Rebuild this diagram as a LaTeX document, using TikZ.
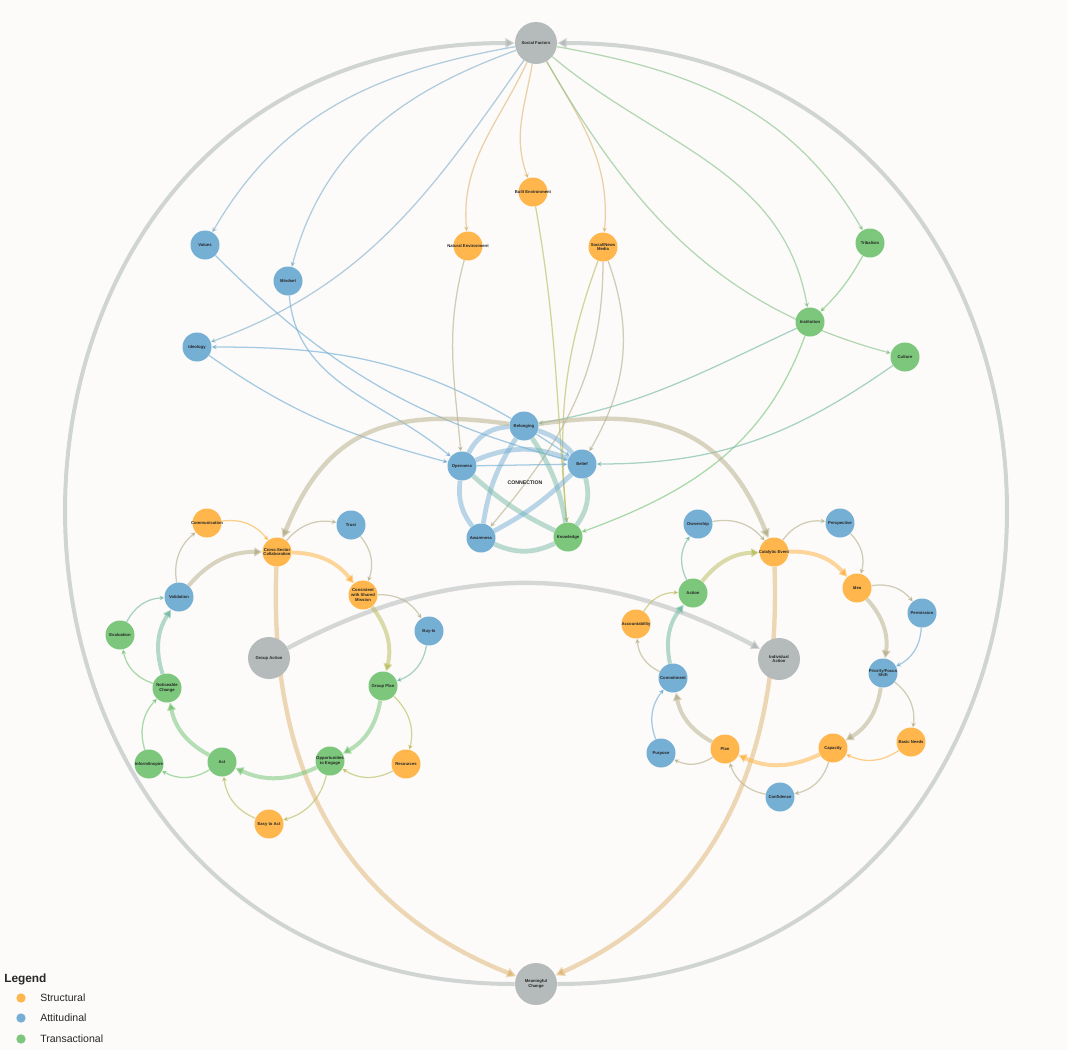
\documentclass[tikz,border=0pt]{standalone}
\usepackage{fontspec}
\setmainfont{Liberation Sans}
\usetikzlibrary{arrows.meta}

\definecolor{cstr}{HTML}{FFB74D}
\definecolor{catt}{HTML}{76AFD4}
\definecolor{ctra}{HTML}{7CC77B}
\definecolor{chub}{HTML}{B4BBBA}
\definecolor{paper}{HTML}{FCFBFA}
\colorlet{sa}{cstr!50!catt}
\colorlet{st}{cstr!50!ctra}
\colorlet{at}{catt!50!ctra}
\colorlet{ha}{catt!70!chub}
\colorlet{hs}{cstr!60!chub}
\colorlet{ht}{ctra!70!chub}

\pgfdeclarelayer{paperlayer}
\pgfdeclarelayer{edgelayer}
\pgfsetlayers{paperlayer,edgelayer,main}

\tikzset{
  nodetext/.style={font=\fontsize{3.15}{3.5}\selectfont\bfseries, align=center, text=black!85, inner sep=0pt},
  tag/.style={label={[nodetext]center:#1}},
  base/.style={circle, inner sep=0pt, minimum size=21.75pt},
  struct/.style={base, fill=cstr},
  att/.style={base, fill=catt},
  trans/.style={base, fill=ctra},
  hub/.style={circle, inner sep=0pt, minimum size=31.5pt, fill=chub},
  petal/.style={draw=#1, draw opacity=.65, line width=0.95pt, -{Stealth[length=3.6pt,width=3.6pt]}},
  ringarc/.style={draw=#1, draw opacity=.55, line width=3pt, -{Triangle[length=6pt,width=6.5pt]}},
  corearc/.style={draw=#1, draw opacity=.5, line width=3.6pt},
  hubarc/.style={draw=#1, draw opacity=.55, line width=3.3pt, -{Triangle[length=7pt,width=7pt]}},
  rimarc/.style={draw=chub, draw opacity=.6, line width=3pt, -{Triangle[length=7pt,width=7pt]}},
  keydot/.style={circle, inner sep=0pt, minimum size=7pt},
  legtext/.style={anchor=west, inner sep=0pt, font=\fontsize{7.9}{9}\selectfont, text=black!85},
}

\begin{document}
\begin{tikzpicture}[x=0.75pt,y=0.75pt]
\useasboundingbox (0,0) rectangle (1067,-1050);
\begin{pgfonlayer}{paperlayer}
  \fill[paper] (0,0) rectangle (1067,-1050);
\end{pgfonlayer}

% hubs
\node[hub, tag={Social Factors}] (sf) at (536,-43) {};
\node[hub, tag={Group Action}] (ga) at (269,-658) {};
\node[hub, tag={Individual\\Action}] (ia) at (779,-659) {};
\node[hub, tag={Meaningful\\Change}] (mc) at (536,-984) {};

% social factors ring
\node[struct, tag={Built Environment}] (be) at (533,-192) {};
\node[struct, tag={Natural Environment}] (ne) at (468,-246) {};
\node[struct, tag={Social/News\\Media}] (sm) at (603,-247) {};
\node[att, tag={Values}] (val) at (205,-245) {};
\node[att, tag={Mindset}] (mind) at (288,-281) {};
\node[att, tag={Ideology}] (ideo) at (197,-347) {};
\node[trans, tag={Tribalism}] (trib) at (870,-243) {};
\node[trans, tag={Institution}] (inst) at (810,-322) {};
\node[trans, tag={Culture}] (cult) at (905,-357) {};

% connection
\node[att, tag={Belonging}] (bel) at (524,-426) {};
\node[att, tag={Openness}] (opn) at (462,-466) {};
\node[att, tag={Belief}] (blf) at (582,-464) {};
\node[att, tag={Awareness}] (awa) at (481,-538) {};
\node[trans, tag={Knowledge}] (kno) at (568,-537) {};
\node[font=\fontsize{3.9}{4}\selectfont\bfseries, text=black!85] (conn) at (525,-483) {CONNECTION};

% group action
\node[struct, tag={Communication}] (comm) at (207,-523) {};
\node[struct, tag={Cross-Sector\\Collaboration}] (csc) at (277,-552) {};
\node[att, tag={Trust}] (trust) at (351,-525) {};
\node[struct, tag={Consistent\\with Shared\\Mission}] (cons) at (363,-595) {};
\node[att, tag={Buy-In}] (buy) at (429,-631) {};
\node[trans, tag={Group Plan}] (gplan) at (383,-686) {};
\node[struct, tag={Resources}] (res) at (406,-764) {};
\node[trans, tag={Opportunities\\to Engage}] (opp) at (330,-761) {};
\node[struct, tag={Easy to Act}] (easy) at (269,-824) {};
\node[trans, tag={Act}] (act) at (222,-762) {};
\node[trans, tag={Inform/Inspire}] (insp) at (149,-764) {};
\node[trans, tag={Noticeable\\Change}] (notc) at (167,-688) {};
\node[trans, tag={Evaluation}] (eval) at (120,-635) {};
\node[att, tag={Validation}] (vali) at (179,-597) {};

% individual action
\node[att, tag={Ownership}] (own) at (698,-524) {};
\node[struct, tag={Catalytic Event}] (ce) at (774,-552) {};
\node[att, tag={Perspective}] (persp) at (840,-523) {};
\node[struct, tag={Idea}] (idea) at (857,-588) {};
\node[att, tag={Permission}] (perm) at (922,-613) {};
\node[att, tag={Priority/Focus\\Shift}] (prio) at (883,-673) {};
\node[struct, tag={Basic Needs}] (basic) at (911,-742) {};
\node[struct, tag={Capacity}] (cap) at (833,-748) {};
\node[att, tag={Confidence}] (conf) at (780,-797) {};
\node[struct, tag={Plan}] (plan) at (725,-749) {};
\node[att, tag={Purpose}] (purp) at (661,-753) {};
\node[att, tag={Commitment}] (commit) at (673,-678) {};
\node[struct, tag={Accountability}] (acct) at (636,-624) {};
\node[trans, tag={Action}] (action) at (693,-593) {};

% legend
\node[anchor=west, inner sep=0pt, font=\fontsize{8.9}{10}\selectfont\bfseries, text=black!85] (leg) at (4,-979) {Legend};
\node[keydot, fill=cstr] (ks) at (21,-998) {};
\node[keydot, fill=catt] (ka) at (21,-1018) {};
\node[keydot, fill=ctra] (kt) at (21,-1039) {};
\node[legtext] (ts) at (40,-998) {Structural};
\node[legtext] (ta) at (40,-1018) {Attitudinal};
\node[legtext] (tt) at (40,-1039) {Transactional};

\begin{pgfonlayer}{edgelayer}
% outer rim
\draw[rimarc] (mc) to[out=180,in=180,looseness=1.63] (sf);
\draw[rimarc] (mc) to[out=0,in=0,looseness=1.63] (sf);

% social factors out
\draw[petal=ha] (sf) to[out=190,in=60] (val);
\draw[petal=ha] (sf) to[out=200,in=75] (mind);
\draw[petal=ha] (sf) to[out=235,in=20] (ideo);
\draw[petal=hs] (sf) to[out=245,in=95] (ne);
\draw[petal=hs] (sf) to[out=260,in=110] (be);
\draw[petal=hs] (sf) to[out=-60,in=85] (sm);
\draw[petal=ht] (sf) to[out=-10,in=120] (trib);
\draw[petal=ht] (sf) to[out=-40,in=100] (inst);
\draw[petal=ht] (sf) to[out=-60,in=165] (cult);

% into connection
\draw[petal=ctra] (trib) to[bend left=8] (inst);
\draw[petal=ctra] (inst) to[out=250,in=20] (kno);
\draw[petal=at] (inst) to[out=205,in=10] (bel);
\draw[petal=at] (cult) to[out=215,in=0] (blf);
\draw[petal=catt] (val) to[out=-45,in=165] (blf);
\draw[petal=catt] (mind) to[out=-85,in=140] (opn);
\draw[petal=catt] (ideo) to[out=-35,in=165] (opn);
\draw[petal=catt] (bel) to[out=150,in=0] (ideo);
\draw[petal=sa] (ne) to[out=-105,in=95] (opn);
\draw[petal=st] (be) to[out=-80,in=95] (kno);
\draw[petal=st] (sm) to[out=-110,in=95] (kno);
\draw[petal=sa] (sm) to[out=-90,in=50] (awa);
\draw[petal=sa] (sm) to[out=-70,in=60] (blf);
\draw[petal=catt] (opn) -- (blf);
\draw[petal=catt] (bel) -- (blf);

% connection core
\draw[corearc=catt] (bel) to[bend right=30] (opn);
\draw[corearc=catt] (opn) to[bend left=22] (blf);
\draw[corearc=catt] (bel) to[bend left=15] (blf);
\draw[corearc=at] (blf) to[bend left=25] (kno);
\draw[corearc=at] (awa) to[bend right=25] (kno);
\draw[corearc=catt] (opn) to[bend right=22] (awa);
\draw[corearc=catt] (bel) to[bend right=12] (awa);
\draw[corearc=at] (bel) to[bend left=12] (kno);
\draw[corearc=at] (opn) to[bend right=8] (kno);
\draw[corearc=catt] (blf) to[bend left=8] (awa);

% hub arcs
\draw[hubarc=chub] (ga) to[bend left=28] (ia);
\draw[hubarc=hs] (csc) .. controls (268,-780) and (350,-910) .. (mc);
\draw[hubarc=hs] (ce) .. controls (782,-780) and (700,-910) .. (mc);
\draw[hubarc=sa] (bel) to[out=172,in=68,looseness=1.2] (csc);
\draw[hubarc=sa] (bel) to[out=8,in=112,looseness=1.2] (ce);

% group action ring
\draw[ringarc=cstr] (csc) to[bend left=25] (cons);
\draw[ringarc=st] (cons) to[bend left=25] (gplan);
\draw[ringarc=ctra] (gplan) to[bend left=25] (opp);
\draw[ringarc=ctra] (opp) to[bend left=25] (act);
\draw[ringarc=ctra] (act) to[bend left=25] (notc);
\draw[ringarc=at] (notc) to[bend left=25] (vali);
\draw[ringarc=sa] (vali) to[bend left=25] (csc);

\draw[petal=sa] (csc) to[bend left=30] (trust);
\draw[petal=sa] (trust) to[bend left=30] (cons);
\draw[petal=sa] (cons) to[bend left=30] (buy);
\draw[petal=at] (buy) to[bend left=30] (gplan);
\draw[petal=st] (gplan) to[bend left=30] (res);
\draw[petal=st] (res) to[bend left=30] (opp);
\draw[petal=st] (opp) to[bend left=30] (easy);
\draw[petal=st] (easy) to[bend left=30] (act);
\draw[petal=ctra] (act) to[bend left=30] (insp);
\draw[petal=ctra] (insp) to[bend left=30] (notc);
\draw[petal=ctra] (notc) to[bend left=30] (eval);
\draw[petal=at] (eval) to[bend left=30] (vali);
\draw[petal=sa] (vali) to[bend left=30] (comm);
\draw[petal=cstr] (comm) to[bend left=30] (csc);

% individual action ring
\draw[ringarc=cstr] (ce) to[bend left=25] (idea);
\draw[ringarc=sa] (idea) to[bend left=25] (prio);
\draw[ringarc=sa] (prio) to[bend left=25] (cap);
\draw[ringarc=cstr] (cap) to[bend left=25] (plan);
\draw[ringarc=sa] (plan) to[bend left=25] (commit);
\draw[ringarc=at] (commit) to[bend left=25] (action);
\draw[ringarc=st] (action) to[bend left=25] (ce);

\draw[petal=sa] (ce) to[bend left=30] (persp);
\draw[petal=sa] (persp) to[bend left=30] (idea);
\draw[petal=sa] (idea) to[bend left=30] (perm);
\draw[petal=catt] (perm) to[bend left=30] (prio);
\draw[petal=sa] (prio) to[bend left=30] (basic);
\draw[petal=cstr] (basic) to[bend left=30] (cap);
\draw[petal=sa] (cap) to[bend left=30] (conf);
\draw[petal=sa] (conf) to[bend left=30] (plan);
\draw[petal=sa] (plan) to[bend left=30] (purp);
\draw[petal=catt] (purp) to[bend left=30] (commit);
\draw[petal=sa] (commit) to[bend left=30] (acct);
\draw[petal=st] (acct) to[bend left=30] (action);
\draw[petal=at] (action) to[bend left=30] (own);
\draw[petal=sa] (own) to[bend left=30] (ce);
\end{pgfonlayer}
\end{tikzpicture}
\end{document}
